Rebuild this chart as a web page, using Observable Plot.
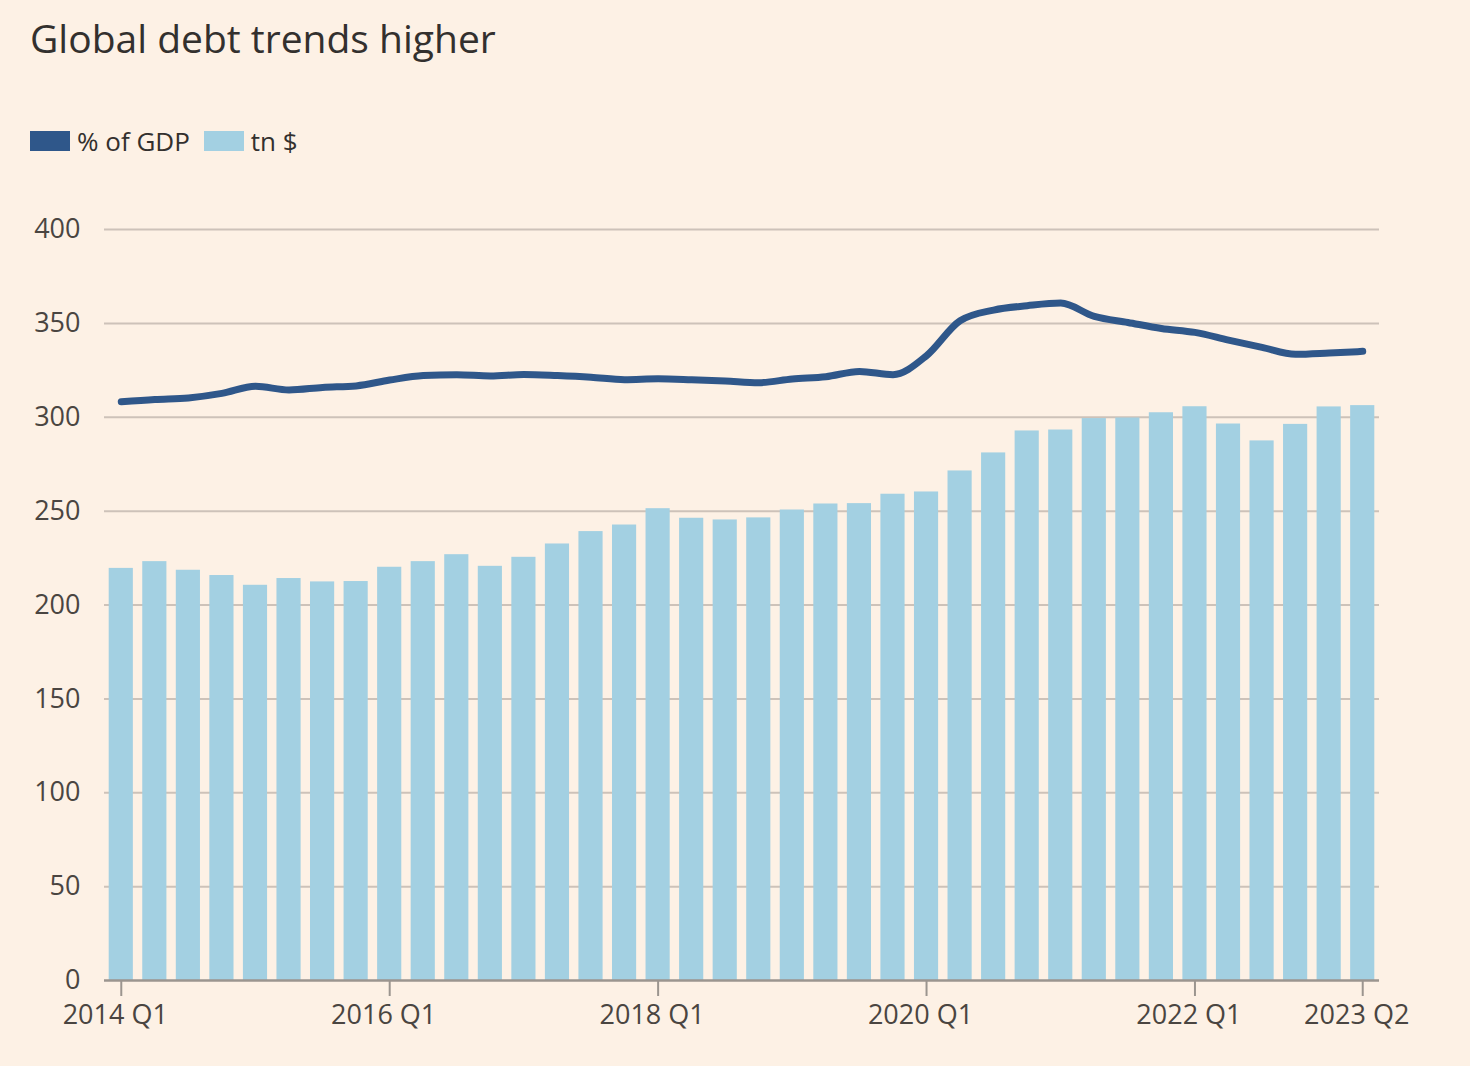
<!DOCTYPE html>
<html>
<head>
<meta charset="utf-8">
<script src="https://cdn.jsdelivr.net/npm/d3@7"></script>
<script src="https://cdn.jsdelivr.net/npm/@observablehq/plot@0.6"></script>
<style>
  html, body { margin: 0; padding: 0; background: #fdf1e5; }
  body { width: 1470px; height: 1066px; position: relative; overflow: hidden; font-family: "Open Sans", sans-serif; color: #33302e; }
  #title { position: absolute; left: 30px; top: 12px; font-size: 39px; line-height: 52px; color: #33302e; }
  #legend { position: absolute; left: 30px; top: 126px; height: 30px; display: flex; align-items: center; font-size: 26px; color: #33302e; }
  .sw { width: 40px; height: 20px; display: inline-block; margin-right: 7px; }
  .item { display: flex; align-items: center; margin-right: 14px; }
  #chart { position: absolute; left: 0; top: 180px; }
</style>
</head>
<body>
<div id="title">Global debt trends higher</div>
<div id="legend">
  <span class="item"><span class="sw" style="background:#2f578a"></span>% of GDP</span>
  <span class="item"><span class="sw" style="background:#a3d0e2"></span>tn $</span>
</div>
<div id="chart"></div>
<script>
const quarters = [
  "2014 Q1","2014 Q2","2014 Q3","2014 Q4",
  "2015 Q1","2015 Q2","2015 Q3","2015 Q4",
  "2016 Q1","2016 Q2","2016 Q3","2016 Q4",
  "2017 Q1","2017 Q2","2017 Q3","2017 Q4",
  "2018 Q1","2018 Q2","2018 Q3","2018 Q4",
  "2019 Q1","2019 Q2","2019 Q3","2019 Q4",
  "2020 Q1","2020 Q2","2020 Q3","2020 Q4",
  "2021 Q1","2021 Q2","2021 Q3","2021 Q4",
  "2022 Q1","2022 Q2","2022 Q3","2022 Q4",
  "2023 Q1","2023 Q2"
];
const debtTn = [
  219.5, 223.1, 218.5, 215.7, 210.5, 214.1, 212.3, 212.5,
  220.1, 223.1, 226.8, 220.6, 225.4, 232.5, 239.1, 242.6,
  251.3, 246.2, 245.3, 246.4, 250.6, 253.8, 254.0, 259.0,
  260.2, 271.4, 281.0, 292.7, 293.2, 299.3, 299.6, 302.4,
  305.6, 296.4, 287.4, 296.2, 305.5, 306.2
];
const debtPctGdp = [
  308.3, 309.5, 310.3, 312.7, 316.5, 314.5, 315.9, 316.7,
  319.8, 322.2, 322.7, 322.0, 322.8, 322.2, 321.3, 320.0,
  320.5, 320.0, 319.3, 318.4, 320.4, 321.6, 324.4, 322.7,
  332.8, 351.4, 357.1, 359.4, 360.8, 353.7, 350.5, 347.3,
  345.2, 341.1, 337.2, 333.5, 334.2, 335.1
];
const xTicks = ["2014 Q1","2016 Q1","2018 Q1","2020 Q1","2022 Q1","2023 Q2"];
const yTicks = [0, 50, 100, 150, 200, 250, 300, 350, 400];

const data = quarters.map((q, i) => ({q, tn: debtTn[i], pct: debtPctGdp[i]}));

const chart = Plot.plot({
  width: 1470,
  height: 880,
  marginTop: 49,
  marginBottom: 80,
  marginLeft: 104,
  marginRight: 91,
  style: {background: "transparent", fontFamily: "Open Sans, sans-serif", fontSize: "27px", color: "#4a4541"},
  x: {type: "band", domain: quarters, paddingInner: 0.28, paddingOuter: 0.14, round: false, label: null},
  y: {domain: [0, 400], label: null},
  marks: [
    Plot.ruleY(yTicks.filter(d => d > 0), {stroke: "#cdc2b9", strokeWidth: 2}),
    Plot.barY(data, {x: "q", y: "tn", fill: "#a3d0e2"}),
    Plot.ruleY([0], {stroke: "#9b958f", strokeWidth: 2.5}),
    Plot.line(data, {x: "q", y: "pct", stroke: "#2f578a", strokeWidth: 7, curve: "monotone-x"}),
    Plot.axisY({ticks: yTicks, tickSize: 0, tickPadding: 24, fontSize: 27, fill: "#4a4541", label: null}),
    Plot.axisX({ticks: xTicks, tickSize: 16, tickPadding: 8, fontSize: 27, fill: "#4a4541", stroke: "#9b958f", strokeWidth: 2, label: null}),
  ]
});
// nudge x tick labels slightly left, as in the reference
chart.querySelectorAll("g[aria-label='x-axis tick label'] text").forEach(t => t.setAttribute("dx", "-6"));
document.getElementById("chart").appendChild(chart);
</script>
</body>
</html>
